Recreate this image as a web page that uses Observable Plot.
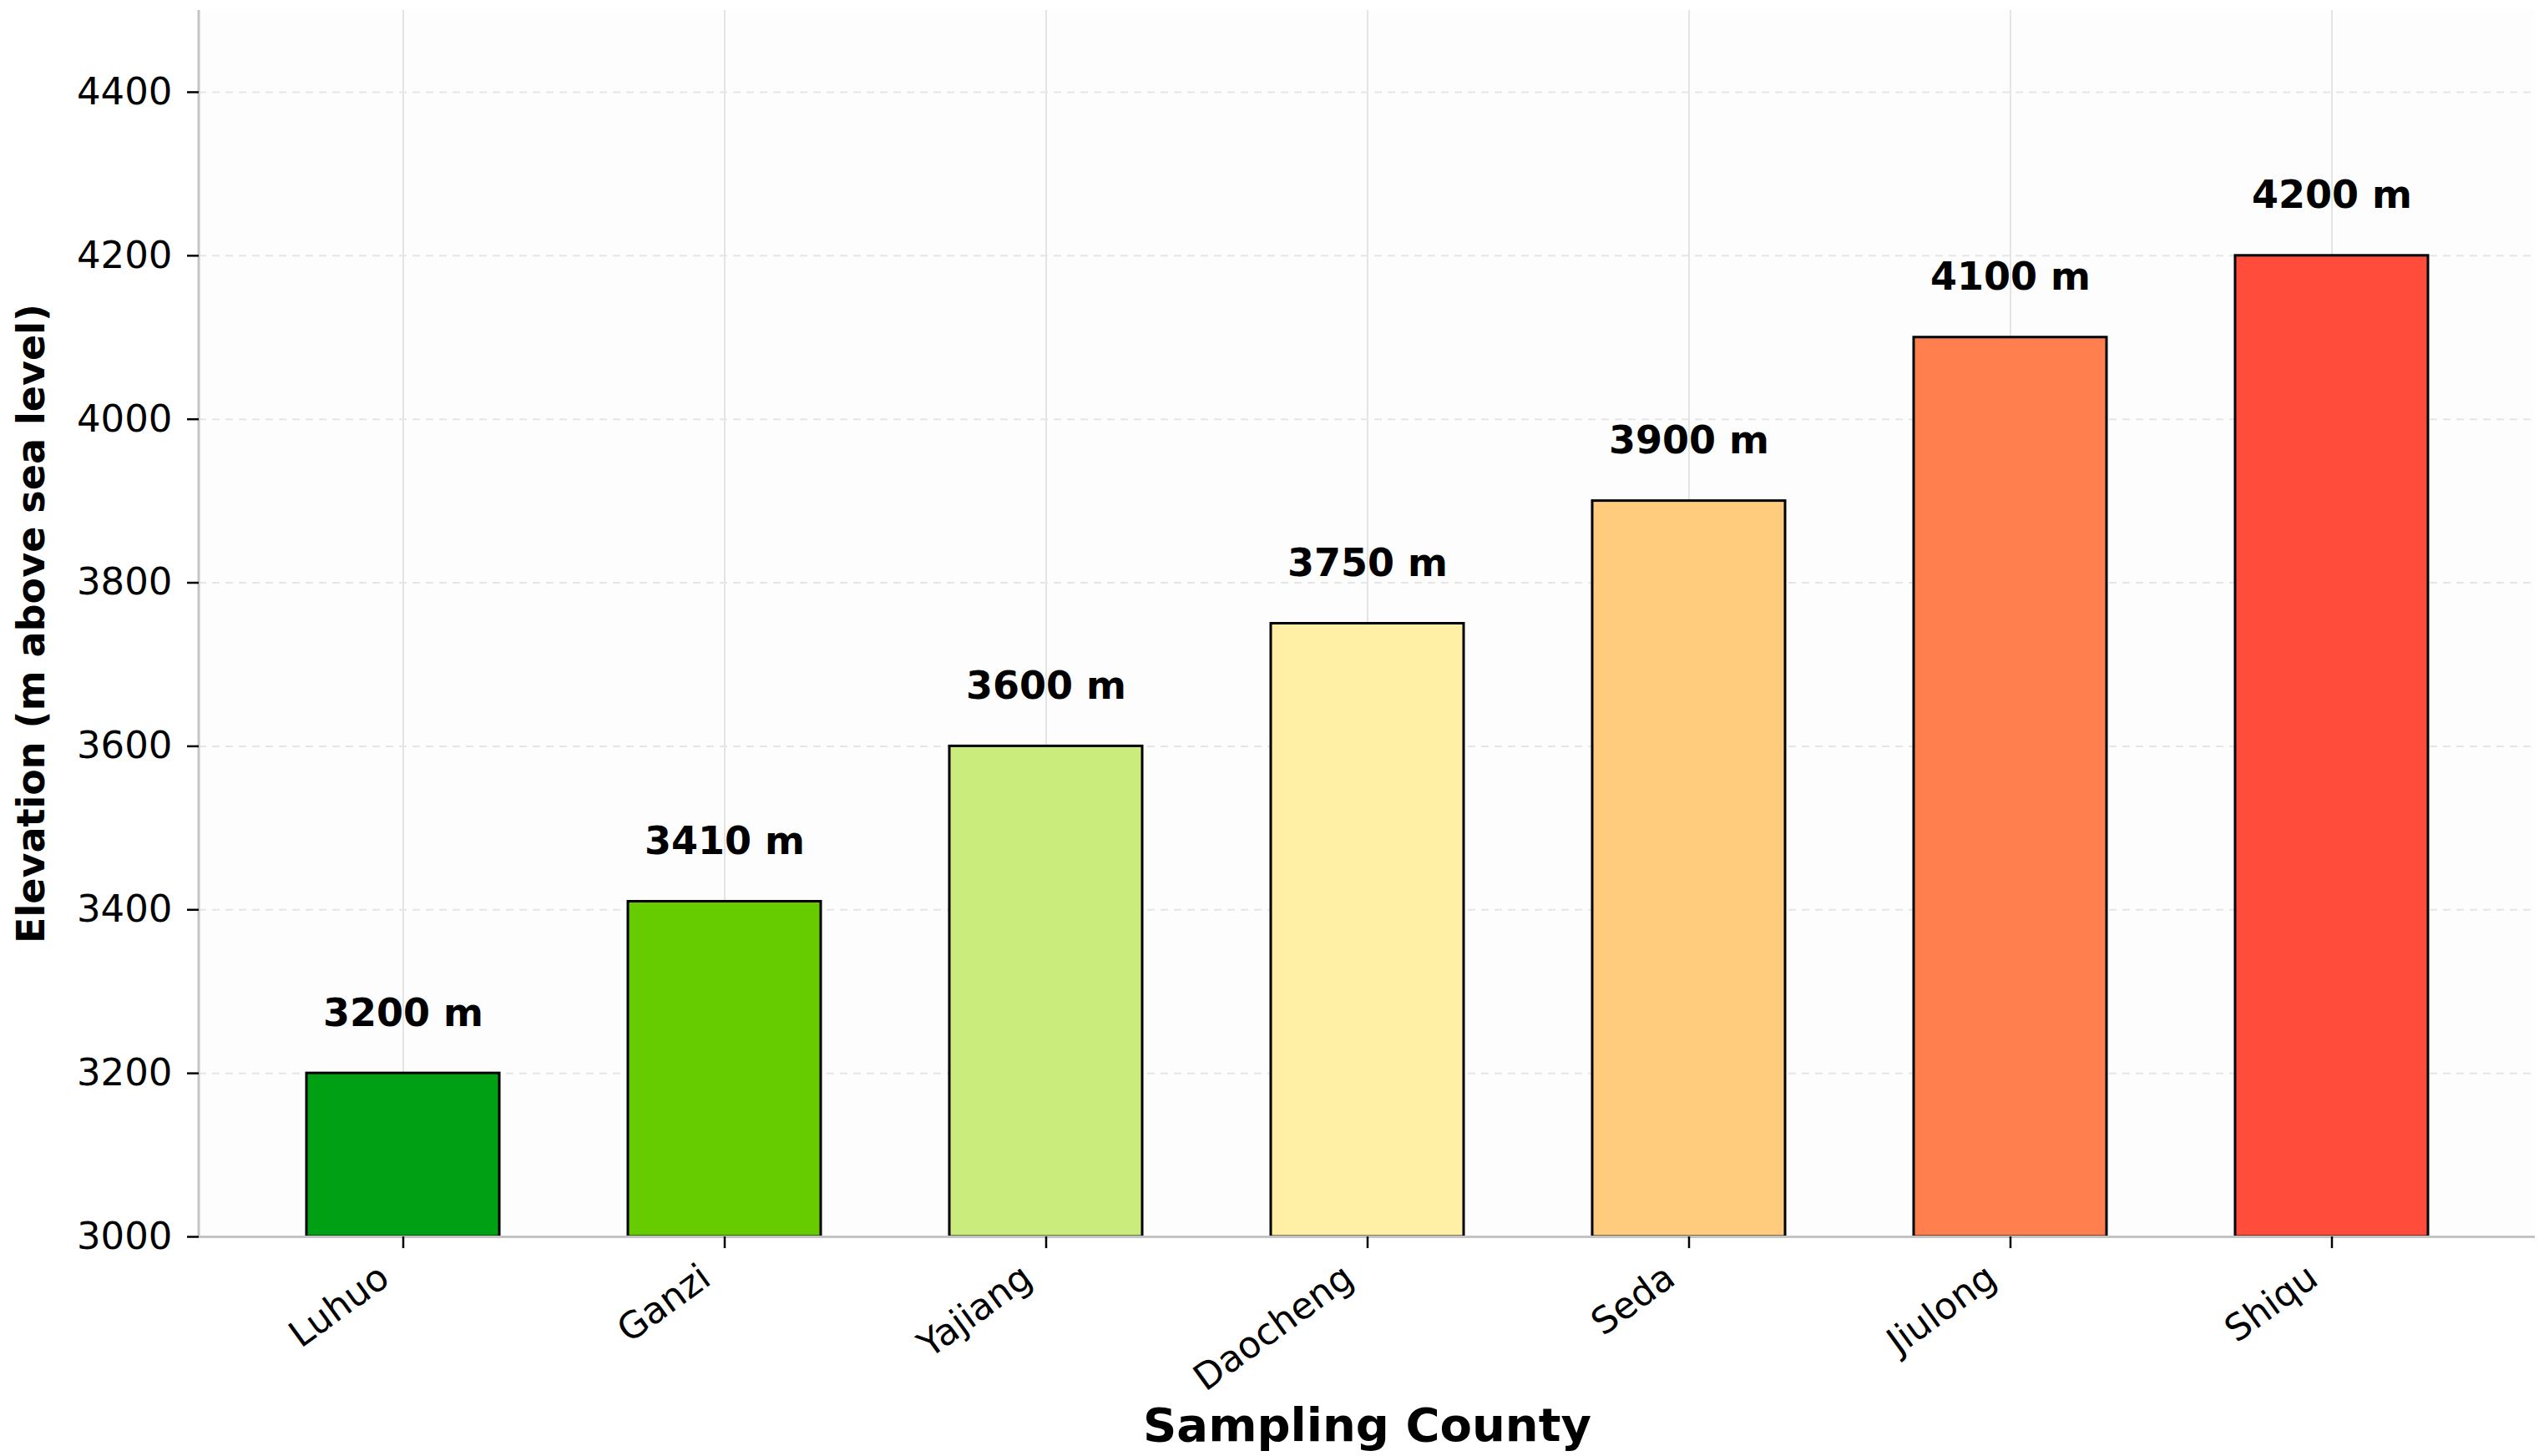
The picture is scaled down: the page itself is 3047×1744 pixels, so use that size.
<!DOCTYPE html>
<html>
<head>
<meta charset="utf-8">
<script src="https://cdn.jsdelivr.net/npm/d3@7"></script>
<script src="https://cdn.jsdelivr.net/npm/@observablehq/plot@0.6"></script>
<style>
  html, body { margin: 0; padding: 0; background: #ffffff; }
  #chart svg { display: block; }
</style>
</head>
<body>
<div id="chart"></div>
<script>
// ---- data ----
const counties = ["Luhuo", "Ganzi", "Yajiang", "Daocheng", "Seda", "Jiulong", "Shiqu"];
const elevations = [3200, 3410, 3600, 3750, 3900, 4100, 4200];
const barColors = ["#00a014", "#66cc00", "#c9ec7c", "#fff0a5", "#ffcc7e", "#ff7f4f", "#ff4c3b"];
const yTicks = [3000, 3200, 3400, 3600, 3800, 4000, 4200, 4400];
const yDomain = [3000, 4500];
const xTitle = "Sampling County";
const yTitle = "Elevation (m above sea level)";

const data = counties.map((c, i) => ({county: c, elevation: elevations[i], label: `${elevations[i]} m`}));

const W = 3047, H = 1744;
const font = "'DejaVu Sans', sans-serif";

const leftSpine = (index, scales, values, dims) => {
  const line = d3.create("svg:line")
    .attr("x1", dims.marginLeft).attr("x2", dims.marginLeft)
    .attr("y1", dims.marginTop).attr("y2", dims.height - dims.marginBottom)
    .attr("stroke", "#c4c4c4").attr("stroke-width", 3);
  return line.node();
};

const chart = Plot.plot({
  width: W,
  height: H,
  marginLeft: 238,
  marginRight: 11,
  marginTop: 12,
  marginBottom: 263,
  style: {fontFamily: font, background: "#ffffff", color: "#000000"},
  x: {domain: counties, paddingInner: 0.4, paddingOuter: 0.33, label: null},
  y: {domain: yDomain, label: null},
  color: {domain: counties, range: barColors},
  marks: [
    Plot.frame({fill: "#fdfdfd", stroke: null}),
    Plot.gridX({stroke: "#e4e4e4", strokeOpacity: 1, strokeWidth: 2}),
    Plot.gridY({ticks: yTicks, stroke: "#e6e6e6", strokeOpacity: 1, strokeWidth: 2, strokeDasharray: "9,7"}),
    Plot.barY(data, {x: "county", y1: yDomain[0], y2: "elevation", fill: "county", stroke: "#000000", strokeWidth: 3}),
    Plot.text(data, {x: "county", y: "elevation", text: "label", dy: -57, lineAnchor: "bottom",
      fontSize: 46, fontWeight: "bold", fill: "#000000"}),
    Plot.ruleY([yDomain[0]], {stroke: "#c4c4c4", strokeWidth: 3}),
    leftSpine,
    Plot.axisY({ticks: yTicks, tickFormat: d => String(d), tickSize: 14, tickPadding: 18, fontSize: 45,
      strokeWidth: 2.5, label: null}),
    Plot.axisY({ticks: [], tickSize: 0, label: yTitle, labelAnchor: "center", labelArrow: "none",
      labelOffset: 218, fontSize: 46, fontWeight: "bold"}),
    // x tick marks
    Plot.axisX({tickSize: 14, tickFormat: () => "", strokeWidth: 2.5, label: null}),
    // x tick labels (rotated)
    Plot.axisX({tickSize: 0, tickPadding: 55, tickRotate: -36, textAnchor: "end", lineAnchor: "bottom",
      dx: -14, fontSize: 44, label: null}),
    Plot.axisX({ticks: [], tickSize: 0, label: xTitle, labelAnchor: "center", labelArrow: "none",
      labelOffset: 244, fontSize: 56, fontWeight: "bold"})
  ]
});

document.getElementById("chart").appendChild(chart);
</script>
</body>
</html>
